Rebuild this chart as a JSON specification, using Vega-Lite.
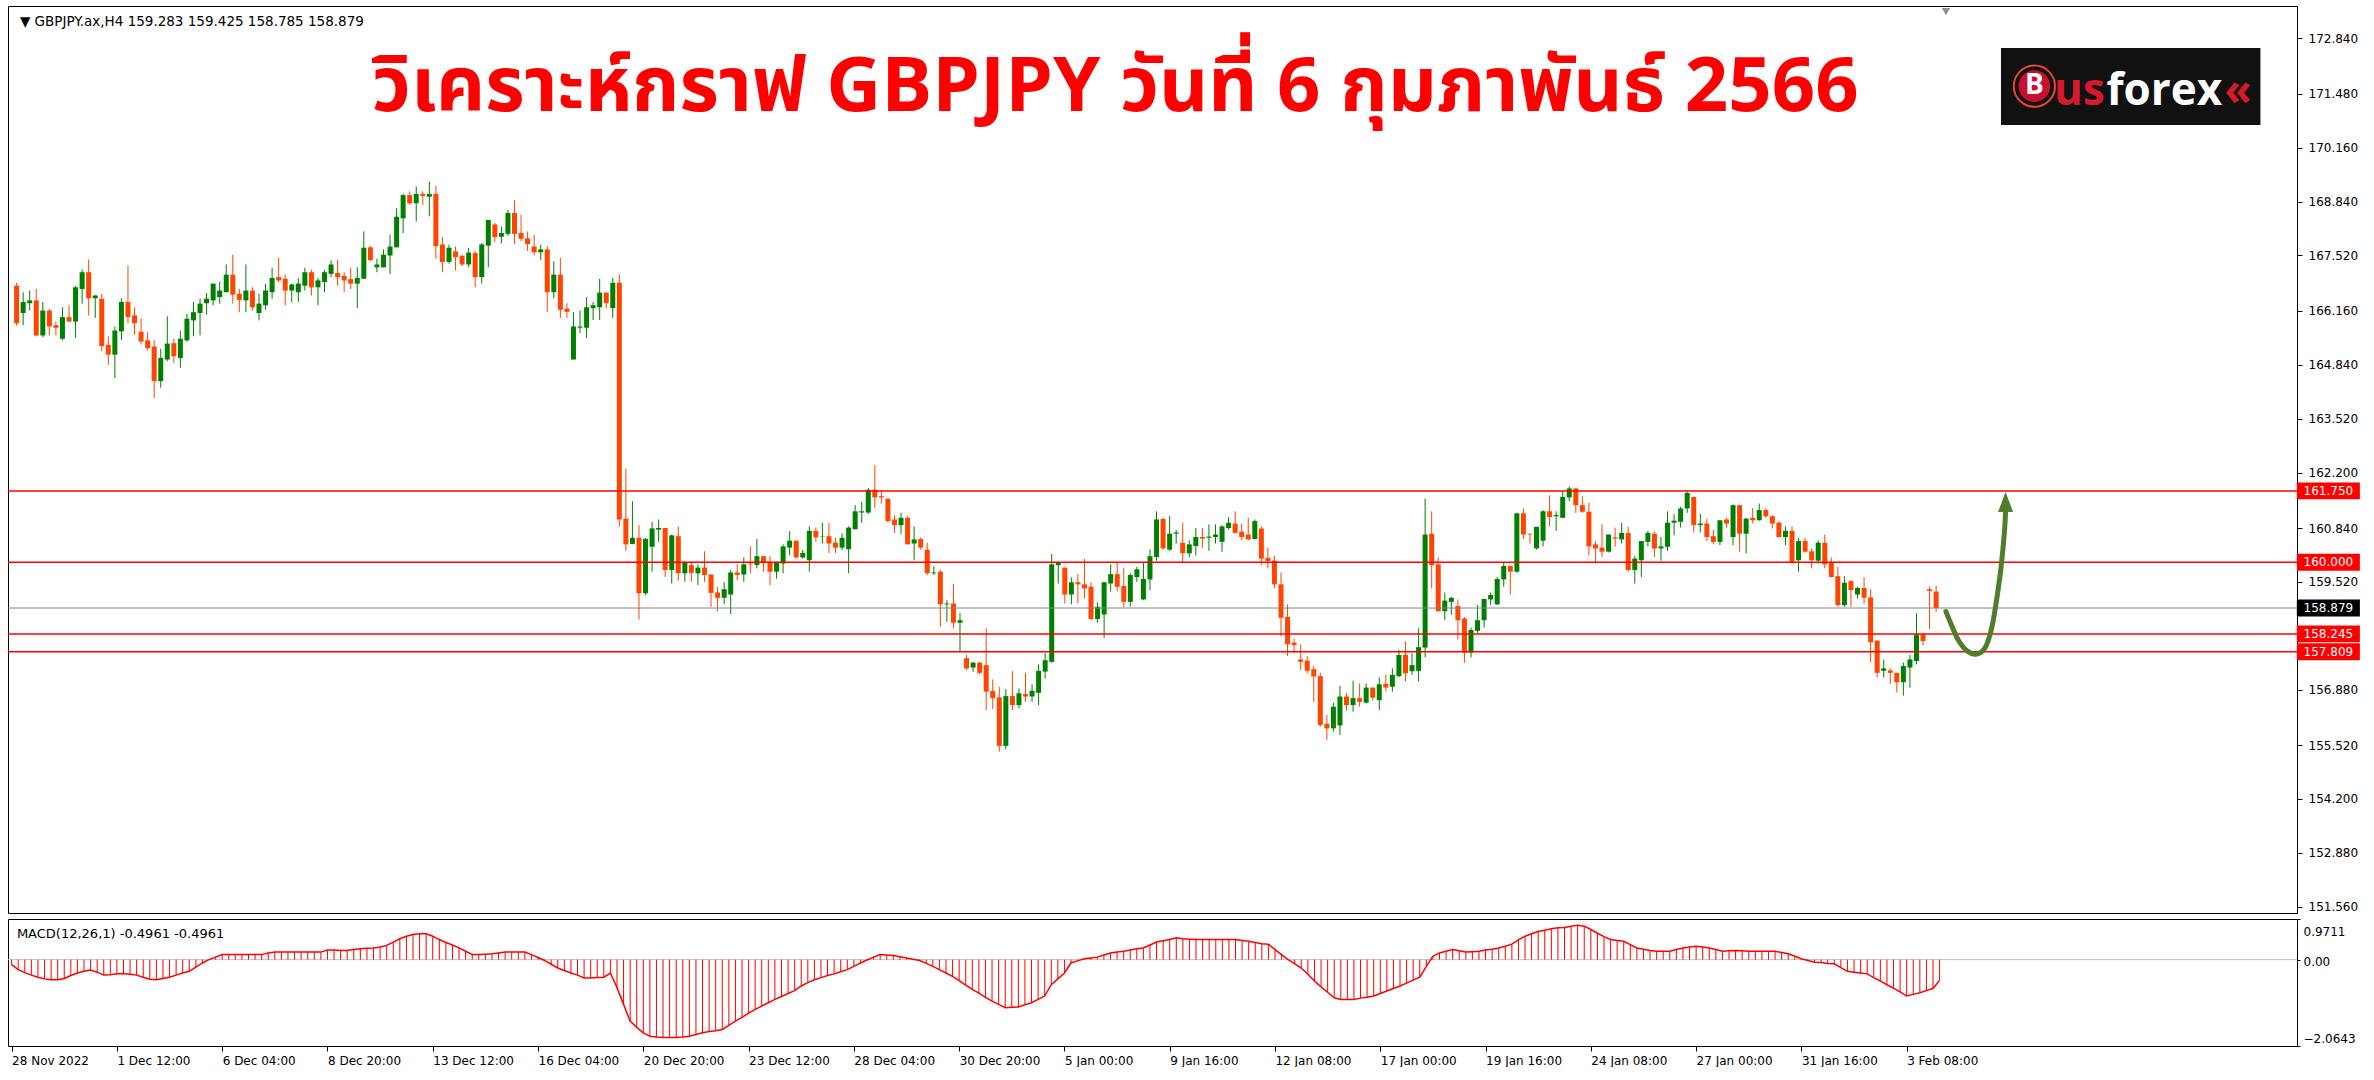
{
"$schema": "https://vega.github.io/schema/vega-lite/v6.json",
"background": "white",
"padding": {"left": 6, "top": 5, "right": 0, "bottom": 0},
"spacing": 4,
"config": {
  "view": {"stroke": "#000000", "strokeWidth": 1},
  "axis": {"labelFont": "DejaVu Sans", "labelFontSize": 12, "labelColor": "#000000", "domainColor": "#000000", "tickColor": "#000000", "grid": false, "title": null}
},
"datasets": {
"bars": [
{"k":0,"o":166.78,"h":166.85,"l":165.80,"c":165.86,"m":-0.12},
{"k":1,"o":166.11,"h":166.62,"l":165.81,"c":166.38,"m":-0.24},
{"k":2,"o":166.35,"h":166.66,"l":166.17,"c":166.42,"m":-0.31},
{"k":3,"o":166.42,"h":166.70,"l":165.54,"c":165.56,"m":-0.37},
{"k":4,"o":165.56,"h":166.38,"l":165.52,"c":166.17,"m":-0.42},
{"k":5,"o":166.17,"h":166.21,"l":165.56,"c":165.78,"m":-0.46},
{"k":6,"o":165.81,"h":165.90,"l":165.56,"c":165.75,"m":-0.48},
{"k":7,"o":165.48,"h":166.25,"l":165.45,"c":166.01,"m":-0.48},
{"k":8,"o":166.01,"h":166.30,"l":165.89,"c":165.90,"m":-0.45},
{"k":9,"o":165.90,"h":166.78,"l":165.50,"c":166.74,"m":-0.38},
{"k":10,"o":166.70,"h":167.18,"l":166.34,"c":167.11,"m":-0.32},
{"k":11,"o":167.11,"h":167.42,"l":166.05,"c":166.47,"m":-0.28},
{"k":12,"o":166.47,"h":166.54,"l":165.99,"c":166.54,"m":-0.25},
{"k":13,"o":166.46,"h":166.58,"l":165.17,"c":165.30,"m":-0.30},
{"k":14,"o":165.33,"h":165.54,"l":164.84,"c":165.09,"m":-0.37},
{"k":15,"o":165.09,"h":165.78,"l":164.52,"c":165.68,"m":-0.36},
{"k":16,"o":165.66,"h":166.47,"l":165.45,"c":166.38,"m":-0.34},
{"k":17,"o":166.38,"h":167.27,"l":165.86,"c":166.01,"m":-0.33},
{"k":18,"o":166.05,"h":166.25,"l":165.58,"c":165.86,"m":-0.35},
{"k":19,"o":165.65,"h":165.98,"l":165.34,"c":165.41,"m":-0.37},
{"k":20,"o":165.44,"h":165.65,"l":165.19,"c":165.25,"m":-0.42},
{"k":21,"o":165.29,"h":165.45,"l":164.03,"c":164.44,"m":-0.47},
{"k":22,"o":164.44,"h":165.23,"l":164.28,"c":165.01,"m":-0.48},
{"k":23,"o":164.97,"h":166.03,"l":164.93,"c":165.36,"m":-0.45},
{"k":24,"o":165.37,"h":165.48,"l":164.88,"c":165.05,"m":-0.42},
{"k":25,"o":165.01,"h":165.68,"l":164.77,"c":165.48,"m":-0.37},
{"k":26,"o":165.44,"h":166.09,"l":165.41,"c":165.97,"m":-0.32},
{"k":27,"o":165.93,"h":166.38,"l":165.54,"c":166.13,"m":-0.28},
{"k":28,"o":166.11,"h":166.46,"l":165.56,"c":166.34,"m":-0.18},
{"k":29,"o":166.35,"h":166.60,"l":166.07,"c":166.46,"m":-0.08},
{"k":30,"o":166.42,"h":166.83,"l":166.30,"c":166.83,"m":0.00},
{"k":31,"o":166.50,"h":166.87,"l":166.34,"c":166.66,"m":0.06},
{"k":32,"o":166.62,"h":167.30,"l":166.62,"c":167.05,"m":0.12},
{"k":33,"o":167.05,"h":167.54,"l":166.34,"c":166.56,"m":0.12},
{"k":34,"o":166.58,"h":166.70,"l":166.13,"c":166.43,"m":0.12},
{"k":35,"o":166.42,"h":167.30,"l":166.13,"c":166.66,"m":0.12},
{"k":36,"o":166.66,"h":166.74,"l":166.17,"c":166.25,"m":0.12},
{"k":37,"o":166.11,"h":166.58,"l":165.93,"c":166.34,"m":0.12},
{"k":38,"o":166.30,"h":166.83,"l":166.19,"c":166.66,"m":0.12},
{"k":39,"o":166.62,"h":167.22,"l":166.46,"c":166.97,"m":0.16},
{"k":40,"o":166.99,"h":167.46,"l":166.87,"c":166.91,"m":0.18},
{"k":41,"o":166.95,"h":167.05,"l":166.30,"c":166.66,"m":0.18},
{"k":42,"o":166.66,"h":166.83,"l":166.38,"c":166.81,"m":0.18},
{"k":43,"o":166.62,"h":166.97,"l":166.38,"c":166.83,"m":0.18},
{"k":44,"o":166.78,"h":167.22,"l":166.66,"c":167.11,"m":0.18},
{"k":45,"o":167.11,"h":167.17,"l":166.54,"c":166.74,"m":0.18},
{"k":46,"o":166.74,"h":166.97,"l":166.30,"c":166.91,"m":0.18},
{"k":47,"o":166.87,"h":167.17,"l":166.62,"c":167.11,"m":0.18},
{"k":48,"o":167.07,"h":167.40,"l":166.99,"c":167.30,"m":0.23},
{"k":49,"o":167.09,"h":167.42,"l":166.78,"c":166.99,"m":0.23},
{"k":50,"o":167.02,"h":167.11,"l":166.62,"c":166.91,"m":0.22},
{"k":51,"o":166.94,"h":167.22,"l":166.70,"c":166.83,"m":0.22},
{"k":52,"o":166.83,"h":167.23,"l":166.23,"c":166.97,"m":0.24},
{"k":53,"o":166.95,"h":168.11,"l":166.95,"c":167.71,"m":0.26},
{"k":54,"o":167.72,"h":167.75,"l":167.38,"c":167.41,"m":0.27},
{"k":55,"o":167.23,"h":167.44,"l":167.11,"c":167.30,"m":0.28},
{"k":56,"o":167.23,"h":167.67,"l":167.23,"c":167.54,"m":0.30},
{"k":57,"o":167.52,"h":168.03,"l":167.07,"c":167.74,"m":0.34},
{"k":58,"o":167.72,"h":168.68,"l":167.72,"c":168.47,"m":0.42},
{"k":59,"o":168.43,"h":169.03,"l":168.07,"c":169.00,"m":0.50},
{"k":60,"o":169.00,"h":169.09,"l":168.76,"c":168.80,"m":0.56},
{"k":61,"o":168.80,"h":169.21,"l":168.35,"c":169.03,"m":0.60},
{"k":62,"o":169.03,"h":169.09,"l":168.76,"c":168.98,"m":0.62},
{"k":63,"o":168.96,"h":169.33,"l":168.48,"c":169.03,"m":0.62},
{"k":64,"o":169.03,"h":169.23,"l":167.44,"c":167.75,"m":0.56},
{"k":65,"o":167.79,"h":167.97,"l":167.11,"c":167.36,"m":0.48},
{"k":66,"o":167.36,"h":167.79,"l":167.32,"c":167.71,"m":0.41},
{"k":67,"o":167.62,"h":167.74,"l":167.15,"c":167.48,"m":0.35},
{"k":68,"o":167.51,"h":167.54,"l":167.26,"c":167.30,"m":0.28},
{"k":69,"o":167.30,"h":167.71,"l":167.23,"c":167.59,"m":0.20},
{"k":70,"o":167.58,"h":167.63,"l":166.74,"c":166.99,"m":0.12},
{"k":71,"o":166.99,"h":167.83,"l":166.83,"c":167.79,"m":0.12},
{"k":72,"o":167.76,"h":168.39,"l":167.23,"c":168.39,"m":0.13},
{"k":73,"o":168.28,"h":168.32,"l":167.85,"c":167.97,"m":0.14},
{"k":74,"o":167.98,"h":168.23,"l":167.82,"c":168.07,"m":0.16},
{"k":75,"o":168.05,"h":168.64,"l":168.00,"c":168.56,"m":0.18},
{"k":76,"o":168.56,"h":168.88,"l":167.80,"c":168.05,"m":0.18},
{"k":77,"o":168.07,"h":168.52,"l":167.87,"c":167.93,"m":0.18},
{"k":78,"o":167.94,"h":168.11,"l":167.63,"c":167.80,"m":0.18},
{"k":79,"o":167.74,"h":168.03,"l":167.52,"c":167.60,"m":0.12},
{"k":80,"o":167.60,"h":167.79,"l":167.40,"c":167.67,"m":0.05},
{"k":81,"o":167.67,"h":167.75,"l":166.13,"c":166.62,"m":-0.02},
{"k":82,"o":166.62,"h":167.38,"l":166.47,"c":167.05,"m":-0.11},
{"k":83,"o":167.05,"h":167.46,"l":165.99,"c":166.19,"m":-0.20},
{"k":84,"o":166.22,"h":166.35,"l":165.99,"c":166.14,"m":-0.26},
{"k":85,"o":164.97,"h":166.13,"l":164.97,"c":165.78,"m":-0.32},
{"k":86,"o":165.75,"h":166.17,"l":165.62,"c":165.78,"m":-0.37},
{"k":87,"o":165.75,"h":166.50,"l":165.50,"c":166.25,"m":-0.44},
{"k":88,"o":166.23,"h":166.38,"l":165.94,"c":166.30,"m":-0.44},
{"k":89,"o":166.25,"h":166.95,"l":165.94,"c":166.61,"m":-0.43},
{"k":90,"o":166.61,"h":166.61,"l":166.23,"c":166.35,"m":-0.42},
{"k":91,"o":166.23,"h":166.97,"l":165.99,"c":166.85,"m":-0.32},
{"k":92,"o":166.85,"h":167.06,"l":160.87,"c":161.05,"m":-0.67},
{"k":93,"o":161.07,"h":162.30,"l":160.28,"c":160.44,"m":-1.07},
{"k":94,"o":160.45,"h":161.50,"l":160.44,"c":160.60,"m":-1.47},
{"k":95,"o":160.60,"h":160.91,"l":158.60,"c":159.24,"m":-1.62},
{"k":96,"o":159.24,"h":160.60,"l":159.20,"c":160.57,"m":-1.75},
{"k":97,"o":160.38,"h":160.99,"l":159.77,"c":160.83,"m":-1.83},
{"k":98,"o":160.80,"h":161.05,"l":160.50,"c":160.84,"m":-1.85},
{"k":99,"o":160.84,"h":160.84,"l":159.64,"c":159.81,"m":-1.86},
{"k":100,"o":159.81,"h":160.68,"l":159.48,"c":160.66,"m":-1.86},
{"k":101,"o":160.64,"h":160.88,"l":159.55,"c":159.73,"m":-1.86},
{"k":102,"o":159.73,"h":160.01,"l":159.52,"c":160.01,"m":-1.85},
{"k":103,"o":159.93,"h":160.01,"l":159.52,"c":159.74,"m":-1.83},
{"k":104,"o":159.73,"h":159.95,"l":159.44,"c":159.87,"m":-1.79},
{"k":105,"o":159.87,"h":160.27,"l":159.52,"c":159.69,"m":-1.75},
{"k":106,"o":159.70,"h":159.70,"l":158.91,"c":159.25,"m":-1.72},
{"k":107,"o":159.26,"h":159.40,"l":158.80,"c":159.13,"m":-1.70},
{"k":108,"o":159.13,"h":159.51,"l":158.97,"c":159.34,"m":-1.67},
{"k":109,"o":159.21,"h":159.82,"l":158.73,"c":159.75,"m":-1.57},
{"k":110,"o":159.75,"h":159.95,"l":159.56,"c":159.69,"m":-1.47},
{"k":111,"o":159.70,"h":160.12,"l":159.52,"c":159.95,"m":-1.38},
{"k":112,"o":159.97,"h":160.39,"l":159.73,"c":159.95,"m":-1.28},
{"k":113,"o":159.93,"h":160.57,"l":159.85,"c":160.15,"m":-1.19},
{"k":114,"o":160.15,"h":160.15,"l":159.77,"c":159.99,"m":-1.11},
{"k":115,"o":160.01,"h":160.15,"l":159.44,"c":159.77,"m":-1.03},
{"k":116,"o":159.77,"h":160.01,"l":159.60,"c":160.01,"m":-0.95},
{"k":117,"o":159.97,"h":160.44,"l":159.73,"c":160.39,"m":-0.88},
{"k":118,"o":160.36,"h":160.76,"l":160.17,"c":160.53,"m":-0.81},
{"k":119,"o":160.53,"h":160.53,"l":160.09,"c":160.12,"m":-0.74},
{"k":120,"o":160.12,"h":160.31,"l":160.09,"c":160.23,"m":-0.63},
{"k":121,"o":160.05,"h":160.88,"l":159.77,"c":160.77,"m":-0.55},
{"k":122,"o":160.77,"h":160.85,"l":160.50,"c":160.61,"m":-0.48},
{"k":123,"o":160.63,"h":160.97,"l":160.46,"c":160.64,"m":-0.43},
{"k":124,"o":160.64,"h":160.97,"l":160.23,"c":160.46,"m":-0.38},
{"k":125,"o":160.48,"h":160.60,"l":160.23,"c":160.36,"m":-0.34},
{"k":126,"o":160.36,"h":160.71,"l":160.30,"c":160.60,"m":-0.29},
{"k":127,"o":160.32,"h":160.88,"l":159.73,"c":160.85,"m":-0.24},
{"k":128,"o":160.81,"h":161.40,"l":160.81,"c":161.25,"m":-0.16},
{"k":129,"o":161.22,"h":161.48,"l":160.97,"c":161.25,"m":-0.08},
{"k":130,"o":161.22,"h":161.82,"l":161.18,"c":161.78,"m":-0.01},
{"k":131,"o":161.78,"h":162.38,"l":161.33,"c":161.59,"m":0.06},
{"k":132,"o":161.62,"h":161.77,"l":161.44,"c":161.59,"m":0.12},
{"k":133,"o":161.56,"h":161.56,"l":160.97,"c":161.01,"m":0.11},
{"k":134,"o":161.05,"h":161.15,"l":160.72,"c":160.91,"m":0.10},
{"k":135,"o":160.91,"h":161.21,"l":160.69,"c":161.09,"m":0.07},
{"k":136,"o":161.09,"h":161.13,"l":160.44,"c":160.44,"m":0.04},
{"k":137,"o":160.46,"h":160.88,"l":160.05,"c":160.56,"m":0.01},
{"k":138,"o":160.57,"h":160.61,"l":160.31,"c":160.36,"m":-0.02},
{"k":139,"o":160.31,"h":160.48,"l":159.69,"c":159.73,"m":-0.09},
{"k":140,"o":159.73,"h":159.90,"l":159.69,"c":159.75,"m":-0.16},
{"k":141,"o":159.77,"h":159.81,"l":158.42,"c":158.97,"m":-0.24},
{"k":142,"o":158.97,"h":159.07,"l":158.54,"c":158.99,"m":-0.32},
{"k":143,"o":158.99,"h":159.47,"l":158.38,"c":158.52,"m":-0.40},
{"k":144,"o":158.52,"h":158.75,"l":157.81,"c":158.58,"m":-0.50},
{"k":145,"o":157.65,"h":157.73,"l":157.36,"c":157.40,"m":-0.61},
{"k":146,"o":157.42,"h":157.56,"l":157.32,"c":157.54,"m":-0.71},
{"k":147,"o":157.54,"h":157.56,"l":157.25,"c":157.29,"m":-0.80},
{"k":148,"o":157.48,"h":158.38,"l":156.38,"c":156.83,"m":-0.90},
{"k":149,"o":156.85,"h":157.13,"l":156.40,"c":156.67,"m":-0.99},
{"k":150,"o":156.69,"h":156.95,"l":155.36,"c":155.50,"m":-1.07},
{"k":151,"o":155.50,"h":156.89,"l":155.42,"c":156.72,"m":-1.15},
{"k":152,"o":156.72,"h":157.33,"l":156.38,"c":156.50,"m":-1.14},
{"k":153,"o":156.50,"h":156.91,"l":156.42,"c":156.79,"m":-1.13},
{"k":154,"o":156.77,"h":157.29,"l":156.58,"c":156.71,"m":-1.08},
{"k":155,"o":156.71,"h":157.01,"l":156.58,"c":156.85,"m":-1.03},
{"k":156,"o":156.80,"h":157.50,"l":156.50,"c":157.34,"m":-0.95},
{"k":157,"o":157.32,"h":157.77,"l":157.15,"c":157.60,"m":-0.87},
{"k":158,"o":157.56,"h":160.20,"l":157.54,"c":159.95,"m":-0.60},
{"k":159,"o":159.93,"h":160.01,"l":159.48,"c":159.99,"m":-0.46},
{"k":160,"o":159.87,"h":159.87,"l":158.99,"c":159.21,"m":-0.32},
{"k":161,"o":159.21,"h":159.63,"l":158.97,"c":159.51,"m":-0.08},
{"k":162,"o":159.51,"h":159.71,"l":158.99,"c":159.46,"m":-0.03},
{"k":163,"o":159.46,"h":160.08,"l":159.11,"c":159.36,"m":0.02},
{"k":164,"o":159.40,"h":159.51,"l":158.58,"c":158.61,"m":0.04},
{"k":165,"o":158.61,"h":159.02,"l":158.52,"c":158.91,"m":0.06},
{"k":166,"o":158.72,"h":159.51,"l":158.15,"c":159.51,"m":0.11},
{"k":167,"o":159.48,"h":159.95,"l":159.28,"c":159.71,"m":0.16},
{"k":168,"o":159.71,"h":160.01,"l":159.29,"c":159.40,"m":0.18},
{"k":169,"o":159.42,"h":159.87,"l":158.89,"c":159.03,"m":0.20},
{"k":170,"o":159.03,"h":159.73,"l":158.91,"c":159.69,"m":0.23},
{"k":171,"o":159.64,"h":159.89,"l":159.52,"c":159.83,"m":0.26},
{"k":172,"o":159.09,"h":159.99,"l":159.07,"c":159.59,"m":0.28},
{"k":173,"o":159.58,"h":160.32,"l":159.32,"c":160.15,"m":0.35},
{"k":174,"o":160.13,"h":161.25,"l":160.04,"c":161.05,"m":0.42},
{"k":175,"o":161.06,"h":161.09,"l":160.31,"c":160.34,"m":0.45},
{"k":176,"o":160.31,"h":161.13,"l":160.28,"c":160.70,"m":0.48},
{"k":177,"o":160.70,"h":160.79,"l":160.46,"c":160.73,"m":0.52},
{"k":178,"o":160.48,"h":160.97,"l":160.01,"c":160.22,"m":0.50},
{"k":179,"o":160.22,"h":160.54,"l":160.12,"c":160.44,"m":0.49},
{"k":180,"o":160.40,"h":160.84,"l":160.17,"c":160.62,"m":0.48},
{"k":181,"o":160.62,"h":160.84,"l":160.36,"c":160.58,"m":0.48},
{"k":182,"o":160.60,"h":160.93,"l":160.28,"c":160.63,"m":0.48},
{"k":183,"o":160.62,"h":160.93,"l":160.46,"c":160.68,"m":0.48},
{"k":184,"o":160.50,"h":160.91,"l":160.26,"c":160.88,"m":0.48},
{"k":185,"o":160.84,"h":161.11,"l":160.80,"c":160.97,"m":0.48},
{"k":186,"o":160.95,"h":161.25,"l":160.71,"c":160.72,"m":0.48},
{"k":187,"o":160.75,"h":160.95,"l":160.54,"c":160.62,"m":0.46},
{"k":188,"o":160.68,"h":161.09,"l":160.54,"c":160.56,"m":0.44},
{"k":189,"o":160.57,"h":161.05,"l":160.56,"c":161.01,"m":0.41},
{"k":190,"o":160.83,"h":160.88,"l":159.93,"c":160.09,"m":0.38},
{"k":191,"o":160.11,"h":160.36,"l":159.85,"c":160.03,"m":0.37},
{"k":192,"o":160.04,"h":160.16,"l":159.36,"c":159.46,"m":0.24},
{"k":193,"o":159.46,"h":159.75,"l":158.19,"c":158.64,"m":0.12},
{"k":194,"o":158.66,"h":158.97,"l":157.70,"c":157.99,"m":0.00},
{"k":195,"o":158.03,"h":158.13,"l":157.77,"c":157.97,"m":-0.10},
{"k":196,"o":157.62,"h":157.99,"l":157.36,"c":157.56,"m":-0.20},
{"k":197,"o":157.59,"h":157.70,"l":157.28,"c":157.34,"m":-0.35},
{"k":198,"o":157.38,"h":157.46,"l":156.58,"c":157.20,"m":-0.51},
{"k":199,"o":157.21,"h":157.29,"l":155.97,"c":156.01,"m":-0.65},
{"k":200,"o":156.04,"h":156.26,"l":155.65,"c":155.93,"m":-0.78},
{"k":201,"o":155.93,"h":156.56,"l":155.85,"c":156.46,"m":-0.91},
{"k":202,"o":156.00,"h":156.97,"l":155.77,"c":156.71,"m":-0.95},
{"k":203,"o":156.71,"h":156.80,"l":156.36,"c":156.50,"m":-0.95},
{"k":204,"o":156.50,"h":157.10,"l":156.34,"c":156.67,"m":-0.95},
{"k":205,"o":156.67,"h":157.03,"l":156.46,"c":156.58,"m":-0.92},
{"k":206,"o":156.56,"h":157.03,"l":156.54,"c":156.93,"m":-0.90},
{"k":207,"o":156.93,"h":156.93,"l":156.62,"c":156.68,"m":-0.87},
{"k":208,"o":156.62,"h":157.18,"l":156.38,"c":157.01,"m":-0.81},
{"k":209,"o":157.02,"h":157.25,"l":156.83,"c":156.93,"m":-0.75},
{"k":210,"o":156.95,"h":157.40,"l":156.83,"c":157.24,"m":-0.69},
{"k":211,"o":157.21,"h":157.85,"l":157.18,"c":157.73,"m":-0.63},
{"k":212,"o":157.73,"h":158.06,"l":157.08,"c":157.28,"m":-0.56},
{"k":213,"o":157.33,"h":157.77,"l":157.24,"c":157.48,"m":-0.49},
{"k":214,"o":157.34,"h":158.38,"l":157.08,"c":157.92,"m":-0.42},
{"k":215,"o":157.91,"h":161.56,"l":157.67,"c":160.68,"m":-0.16},
{"k":216,"o":160.70,"h":161.25,"l":159.36,"c":159.93,"m":0.08},
{"k":217,"o":159.95,"h":160.12,"l":158.79,"c":158.80,"m":0.16},
{"k":218,"o":158.80,"h":159.26,"l":158.58,"c":159.06,"m":0.20},
{"k":219,"o":159.03,"h":159.15,"l":158.71,"c":159.13,"m":0.24},
{"k":220,"o":158.93,"h":159.09,"l":158.11,"c":158.58,"m":0.21},
{"k":221,"o":158.62,"h":158.66,"l":157.54,"c":157.79,"m":0.18},
{"k":222,"o":157.79,"h":158.40,"l":157.67,"c":158.34,"m":0.19},
{"k":223,"o":158.32,"h":158.95,"l":158.27,"c":158.58,"m":0.20},
{"k":224,"o":158.58,"h":159.11,"l":158.40,"c":159.10,"m":0.23},
{"k":225,"o":159.09,"h":159.26,"l":158.95,"c":159.20,"m":0.25},
{"k":226,"o":158.97,"h":159.64,"l":158.95,"c":159.59,"m":0.28},
{"k":227,"o":159.58,"h":160.01,"l":159.40,"c":159.91,"m":0.32},
{"k":228,"o":159.91,"h":159.91,"l":159.21,"c":159.77,"m":0.37},
{"k":229,"o":159.77,"h":161.21,"l":159.74,"c":161.20,"m":0.47},
{"k":230,"o":161.20,"h":161.32,"l":160.57,"c":160.68,"m":0.56},
{"k":231,"o":160.70,"h":160.70,"l":160.46,"c":160.68,"m":0.62},
{"k":232,"o":160.34,"h":160.87,"l":160.31,"c":160.87,"m":0.67},
{"k":233,"o":160.53,"h":161.28,"l":160.39,"c":161.25,"m":0.70},
{"k":234,"o":161.25,"h":161.64,"l":160.88,"c":161.11,"m":0.74},
{"k":235,"o":161.13,"h":161.25,"l":160.77,"c":161.16,"m":0.76},
{"k":236,"o":161.09,"h":161.75,"l":161.09,"c":161.60,"m":0.77},
{"k":237,"o":161.59,"h":161.86,"l":161.50,"c":161.81,"m":0.80},
{"k":238,"o":161.81,"h":161.81,"l":161.21,"c":161.40,"m":0.82},
{"k":239,"o":161.40,"h":161.62,"l":161.21,"c":161.24,"m":0.80},
{"k":240,"o":161.24,"h":161.46,"l":160.17,"c":160.39,"m":0.72},
{"k":241,"o":160.44,"h":160.52,"l":159.97,"c":160.34,"m":0.63},
{"k":242,"o":160.36,"h":160.93,"l":160.13,"c":160.26,"m":0.55},
{"k":243,"o":160.26,"h":160.68,"l":160.24,"c":160.68,"m":0.48},
{"k":244,"o":160.61,"h":160.85,"l":160.38,"c":160.58,"m":0.46},
{"k":245,"o":160.56,"h":160.97,"l":160.46,"c":160.72,"m":0.44},
{"k":246,"o":160.72,"h":160.87,"l":159.77,"c":159.81,"m":0.36},
{"k":247,"o":159.81,"h":160.15,"l":159.48,"c":160.09,"m":0.28},
{"k":248,"o":160.05,"h":160.52,"l":159.64,"c":160.52,"m":0.25},
{"k":249,"o":160.50,"h":160.77,"l":160.39,"c":160.72,"m":0.22},
{"k":250,"o":160.70,"h":160.75,"l":160.13,"c":160.34,"m":0.20},
{"k":251,"o":160.34,"h":160.62,"l":160.04,"c":160.39,"m":0.20},
{"k":252,"o":160.38,"h":161.25,"l":160.28,"c":160.97,"m":0.20},
{"k":253,"o":160.97,"h":161.18,"l":160.66,"c":161.02,"m":0.24},
{"k":254,"o":160.99,"h":161.36,"l":160.85,"c":161.32,"m":0.28},
{"k":255,"o":161.32,"h":161.74,"l":161.21,"c":161.70,"m":0.30},
{"k":256,"o":161.60,"h":161.60,"l":160.73,"c":160.91,"m":0.32},
{"k":257,"o":160.91,"h":161.19,"l":160.73,"c":160.95,"m":0.30},
{"k":258,"o":160.95,"h":161.07,"l":160.52,"c":160.62,"m":0.28},
{"k":259,"o":160.64,"h":160.80,"l":160.44,"c":160.50,"m":0.24},
{"k":260,"o":160.50,"h":161.03,"l":160.42,"c":161.03,"m":0.20},
{"k":261,"o":161.05,"h":161.09,"l":160.85,"c":160.95,"m":0.21},
{"k":262,"o":160.62,"h":161.42,"l":160.42,"c":161.40,"m":0.22},
{"k":263,"o":161.40,"h":161.40,"l":160.26,"c":160.70,"m":0.21},
{"k":264,"o":160.70,"h":161.09,"l":160.22,"c":161.07,"m":0.20},
{"k":265,"o":161.09,"h":161.33,"l":160.95,"c":161.03,"m":0.20},
{"k":266,"o":161.03,"h":161.44,"l":161.02,"c":161.28,"m":0.20},
{"k":267,"o":161.28,"h":161.32,"l":161.09,"c":161.13,"m":0.20},
{"k":268,"o":161.13,"h":161.15,"l":160.83,"c":160.95,"m":0.20},
{"k":269,"o":160.97,"h":161.01,"l":160.61,"c":160.62,"m":0.17},
{"k":270,"o":160.62,"h":160.88,"l":160.42,"c":160.77,"m":0.14},
{"k":271,"o":160.77,"h":160.88,"l":159.97,"c":159.99,"m":0.08},
{"k":272,"o":160.05,"h":160.60,"l":159.77,"c":160.52,"m":0.02},
{"k":273,"o":160.52,"h":160.60,"l":160.24,"c":160.26,"m":-0.02},
{"k":274,"o":160.27,"h":160.34,"l":159.85,"c":160.05,"m":-0.06},
{"k":275,"o":160.04,"h":160.54,"l":159.97,"c":160.48,"m":-0.07},
{"k":276,"o":160.48,"h":160.68,"l":159.85,"c":159.95,"m":-0.09},
{"k":277,"o":159.99,"h":160.12,"l":159.63,"c":159.64,"m":-0.10},
{"k":278,"o":159.66,"h":159.89,"l":158.91,"c":158.95,"m":-0.19},
{"k":279,"o":158.95,"h":159.66,"l":158.91,"c":159.50,"m":-0.28},
{"k":280,"o":159.54,"h":159.56,"l":158.91,"c":159.32,"m":-0.30},
{"k":281,"o":159.21,"h":159.40,"l":159.11,"c":159.37,"m":-0.32},
{"k":282,"o":159.37,"h":159.63,"l":158.97,"c":159.13,"m":-0.34},
{"k":283,"o":159.14,"h":159.34,"l":157.55,"c":158.04,"m":-0.43},
{"k":284,"o":158.08,"h":158.09,"l":157.18,"c":157.29,"m":-0.51},
{"k":285,"o":157.34,"h":157.62,"l":157.18,"c":157.40,"m":-0.60},
{"k":286,"o":157.35,"h":157.40,"l":157.02,"c":157.29,"m":-0.68},
{"k":287,"o":157.29,"h":157.29,"l":156.81,"c":157.06,"m":-0.77},
{"k":288,"o":157.06,"h":157.54,"l":156.73,"c":157.46,"m":-0.87},
{"k":289,"o":157.42,"h":157.73,"l":156.93,"c":157.62,"m":-0.83},
{"k":290,"o":157.58,"h":158.75,"l":157.50,"c":158.23,"m":-0.79},
{"k":291,"o":158.23,"h":158.26,"l":157.96,"c":158.07,"m":-0.74},
{"k":292,"o":159.34,"h":159.40,"l":158.36,"c":159.30,"m":-0.69},
{"k":293,"o":159.283,"h":159.425,"l":158.785,"c":158.879,"m":-0.4961}
],
"levels": [
{"p":161.75,"kind":"level"},
{"p":160.0,"kind":"level"},
{"p":158.245,"kind":"level"},
{"p":157.809,"kind":"level"},
{"p":158.879,"kind":"price"}
],
"arrow": [
{"ax":294.5,"ap":158.79},{"ax":295.4,"ap":158.44},{"ax":296.4,"ap":158.09},{"ax":297.7,"ap":157.83},{"ax":299.2,"ap":157.75},{"ax":300.5,"ap":157.91},{"ax":301.5,"ap":158.40},{"ax":302.2,"ap":159.05},{"ax":302.9,"ap":159.87},{"ax":303.4,"ap":160.69},{"ax":303.6,"ap":161.25}
]
},
"vconcat": [
{
  "width": 2289,
  "height": 907,
  "data": {"name": "bars"},
  "layer": [
    {
      "mark": {"type": "rule", "strokeWidth": 1},
      "encoding": {
        "x": {"field": "k", "type": "quantitative", "scale": {"domain": [-0.55, 347.32], "nice": false, "zero": false}, "axis": null},
        "y": {"field": "l", "type": "quantitative", "scale": {"domain": [151.404, 173.635], "nice": false, "zero": false},
              "axis": {"orient": "right", "values": [151.56,152.88,154.2,155.52,156.88,159.52,160.84,162.2,163.52,164.84,166.16,167.52,168.84,170.16,171.48,172.84], "format": ".3f", "tickSize": 5, "labelPadding": 6, "labelFlush": false, "labelOverlap": false, "title": null}},
        "y2": {"field": "h"},
        "color": {"condition": {"test": "datum.c >= datum.o", "value": "#008000"}, "value": "#ff4500"}
      }
    },
    {
      "mark": {"type": "bar", "size": 5},
      "encoding": {
        "x": {"field": "k", "type": "quantitative"},
        "y": {"field": "o", "type": "quantitative"},
        "y2": {"field": "c"},
        "color": {"condition": {"test": "datum.c >= datum.o", "value": "#008000"}, "value": "#ff4500"}
      }
    },
    {
      "data": {"name": "levels"},
      "mark": {"type": "rule"},
      "encoding": {
        "y": {"field": "p", "type": "quantitative"},
        "color": {"condition": {"test": "datum.kind == 'price'", "value": "#778899"}, "value": "#ff0000"},
        "strokeWidth": {"condition": {"test": "datum.kind == 'price'", "value": 1}, "value": 1.5}
      }
    },
    {
      "data": {"name": "levels"},
      "mark": {"type": "point", "filled": true, "opacity": 1, "shape": "M-1.97,-0.53L1.97,-0.53L1.97,0.53L-1.97,0.53Z", "size": 1024},
      "encoding": {
        "x": {"datum": 352.87, "type": "quantitative"},
        "y": {"field": "p", "type": "quantitative"},
        "color": {"condition": {"test": "datum.kind == 'price'", "value": "#000000"}, "value": "#ff0000"}
      }
    },
    {
      "data": {"name": "levels"},
      "mark": {"type": "text", "font": "DejaVu Sans", "fontSize": 12, "color": "#ffffff", "align": "center", "baseline": "middle"},
      "encoding": {
        "x": {"datum": 352.87, "type": "quantitative"},
        "y": {"field": "p", "type": "quantitative"},
        "text": {"field": "p", "format": ".3f"}
      }
    },
    {
      "data": {"name": "arrow"},
      "mark": {"type": "line", "color": "#4f7d2a", "strokeWidth": 5, "strokeCap": "round", "interpolate": "cardinal"},
      "encoding": {
        "x": {"field": "ax", "type": "quantitative"},
        "y": {"field": "ap", "type": "quantitative"}
      }
    },
    {
      "data": {"values": [{"n": "head"}]},
      "mark": {"type": "point", "filled": true, "opacity": 1, "shape": "M0,-1L0.75,1L-0.75,1Z", "size": 400, "color": "#4f7d2a"},
      "encoding": {
        "x": {"datum": 303.6, "type": "quantitative"},
        "y": {"datum": 161.48, "type": "quantitative"}
      }
    },
    {
      "data": {"values": [{"n": "shift"}]},
      "mark": {"type": "point", "filled": true, "opacity": 1, "shape": "triangle-down", "size": 70, "color": "#8795a3"},
      "encoding": {
        "x": {"datum": 294.5, "type": "quantitative"},
        "y": {"datum": 173.5, "type": "quantitative"}
      }
    },
    {
      "data": {"values": [{"t": "▼ GBPJPY.ax,H4  159.283 159.425 158.785 158.879"}]},
      "mark": {"type": "text", "font": "DejaVu Sans", "fontSize": 13.5, "color": "#000000", "align": "left", "baseline": "middle"},
      "encoding": {
        "x": {"datum": 0.5, "type": "quantitative"},
        "y": {"datum": 173.25, "type": "quantitative"},
        "text": {"field": "t"}
      }
    },
    {
      "data": {"values": [{"t": "วิเคราะห์กราฟ GBPJPY วันที่ 6 กุมภาพันธ์ 2566"}]},
      "mark": {"type": "text", "font": "Noto Sans Thai, Noto Sans, sans-serif", "fontSize": 76, "fontWeight": "bold", "color": "#ff0000", "align": "center", "baseline": "middle"},
      "encoding": {
        "x": {"datum": 167.7, "type": "quantitative"},
        "y": {"datum": 171.62, "type": "quantitative"},
        "text": {"field": "t"}
      }
    },
    {
      "data": {"values": [{"n": "logo"}]},
      "mark": {"type": "rect", "color": "#111111"},
      "encoding": {
        "x": {"datum": 302.9, "type": "quantitative"},
        "x2": {"datum": 342.5},
        "y": {"datum": 172.605, "type": "quantitative"},
        "y2": {"datum": 170.718}
      }
    },
    {
      "data": {"values": [{"n": "ring"}]},
      "mark": {"type": "point", "filled": false, "opacity": 1, "shape": "circle", "size": 1700, "stroke": "#e8452c", "strokeWidth": 2},
      "encoding": {
        "x": {"datum": 308.0, "type": "quantitative"},
        "y": {"datum": 171.67, "type": "quantitative"}
      }
    },
    {
      "data": {"values": [{"n": "circle"}]},
      "mark": {"type": "point", "filled": true, "opacity": 1, "shape": "circle", "size": 1000, "color": "#c8102e"},
      "encoding": {
        "x": {"datum": 308.0, "type": "quantitative"},
        "y": {"datum": 171.67, "type": "quantitative"}
      }
    },
    {
      "data": {"values": [{"t": "B"}]},
      "mark": {"type": "text", "font": "Open Sans", "fontSize": 28, "fontWeight": "bold", "color": "#ffffff", "align": "center", "baseline": "middle"},
      "encoding": {
        "x": {"datum": 308.0, "type": "quantitative"},
        "y": {"datum": 171.67, "type": "quantitative"},
        "text": {"field": "t"}
      }
    },
    {
      "data": {"values": [{"t": "us"}]},
      "mark": {"type": "text", "font": "Open Sans", "fontSize": 44, "fontWeight": "bold", "color": "#d7192d", "align": "left", "baseline": "alphabetic"},
      "encoding": {
        "x": {"datum": 311.0, "type": "quantitative"},
        "y": {"datum": 171.22, "type": "quantitative"},
        "text": {"field": "t"}
      }
    },
    {
      "data": {"values": [{"t": "forex"}]},
      "mark": {"type": "text", "font": "Open Sans", "fontSize": 44, "fontWeight": "bold", "color": "#ffffff", "align": "left", "baseline": "alphabetic"},
      "encoding": {
        "x": {"datum": 319.0, "type": "quantitative"},
        "y": {"datum": 171.22, "type": "quantitative"},
        "text": {"field": "t"}
      }
    },
    {
      "data": {"values": [{"t": "«"}]},
      "mark": {"type": "text", "font": "Open Sans", "fontSize": 44, "fontWeight": "bold", "color": "#d7192d", "align": "left", "baseline": "alphabetic"},
      "encoding": {
        "x": {"datum": 337.0, "type": "quantitative"},
        "y": {"datum": 171.22, "type": "quantitative"},
        "text": {"field": "t"}
      }
    }
  ]
},
{
  "width": 2289,
  "height": 127,
  "data": {"name": "bars"},
  "layer": [
    {
      "data": {"values": [{"z": 0}]},
      "mark": {"type": "rule", "color": "#c0c0c0", "strokeWidth": 1},
      "encoding": {
        "y": {"field": "z", "type": "quantitative", "scale": {"domain": [-2.0643, 0.9711], "nice": false, "zero": false},
              "axis": {"orient": "right", "values": [0.9711, 0, -2.0643], "labelExpr": "datum.value == 0 ? '0.00' : format(datum.value, '.4f')", "tickSize": 3, "labelPadding": 3, "labelFlush": false, "labelOverlap": false, "title": null,
                       "labelOffset": {"condition": [{"test": "datum.value > 0.5", "value": 12}, {"test": "datum.value < -2", "value": -8}], "value": 2}}}
      }
    },
    {
      "mark": {"type": "rule", "color": "#ff0000", "strokeWidth": 1},
      "encoding": {
        "x": {"field": "k", "type": "quantitative", "scale": {"domain": [-0.55, 347.32], "nice": false, "zero": false},
              "axis": {"orient": "bottom", "values": [0,16,32,48,64,80,96,112,128,144,160,176,192,208,224,240,256,272,288],
                       "labelExpr": "['28 Nov 2022','1 Dec 12:00','6 Dec 04:00','8 Dec 20:00','13 Dec 12:00','16 Dec 04:00','20 Dec 20:00','23 Dec 12:00','28 Dec 04:00','30 Dec 20:00','5 Jan 00:00','9 Jan 16:00','12 Jan 08:00','17 Jan 00:00','19 Jan 16:00','24 Jan 08:00','27 Jan 00:00','31 Jan 16:00','3 Feb 08:00'][round(datum.value/16)]",
                       "labelAlign": "left", "tickSize": 5, "labelPadding": 4, "domain": false, "labelFlush": false, "labelOverlap": false, "title": null}},
        "y": {"field": "m", "type": "quantitative"},
        "y2": {"datum": 0}
      }
    },
    {
      "mark": {"type": "line", "color": "#ff0000", "strokeWidth": 1.5},
      "encoding": {
        "x": {"field": "k", "type": "quantitative"},
        "y": {"field": "m", "type": "quantitative"}
      }
    },
    {
      "data": {"values": [{"t": "MACD(12,26,1) -0.4961 -0.4961"}]},
      "mark": {"type": "text", "font": "DejaVu Sans", "fontSize": 13, "color": "#000000", "align": "left", "baseline": "middle"},
      "encoding": {
        "x": {"datum": 0.8, "type": "quantitative"},
        "y": {"datum": 0.613, "type": "quantitative"},
        "text": {"field": "t"}
      }
    }
  ]
}
]
}
